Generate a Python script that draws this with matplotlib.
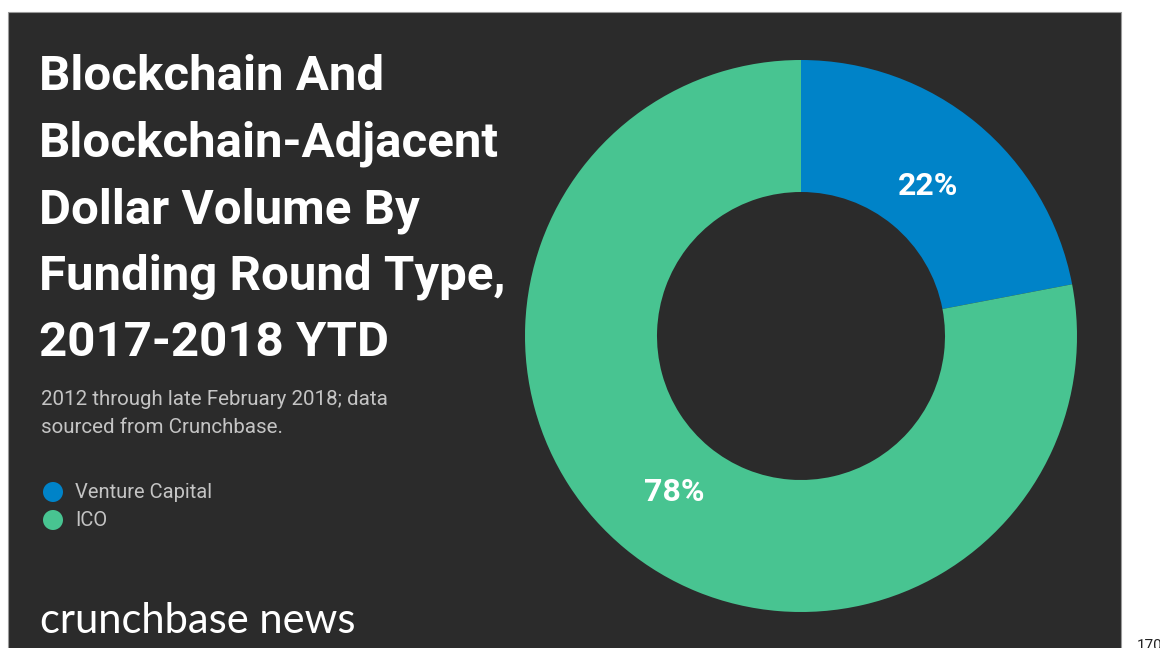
import matplotlib
matplotlib.use("Agg")
import matplotlib.pyplot as plt
from matplotlib.patches import Rectangle, Circle

# funding round share of blockchain dollar volume
categories = ["Venture Capital", "ICO"]
shares = [22, 78]
colors = ["#0083c8", "#48c491"]

title_lines = ["Blockchain And", "Blockchain-Adjacent", "Dollar Volume By",
               "Funding Round Type,", "2017-2018 YTD"]
note_lines = ["2012 through late February 2018; data", "sourced from Crunchbase."]

W, H = 1160, 648
BG = "#2b2b2b"

fig = plt.figure(figsize=(W / 100, H / 100), dpi=100, facecolor="white")

# full-figure layer in pixel coordinates for the panel and text
bg = fig.add_axes([0, 0, 1, 1])
bg.set_xlim(0, W)
bg.set_ylim(H, 0)
bg.axis("off")
bg.add_patch(Rectangle((8, 12), 1113, 640, facecolor=BG, edgecolor="#9a9a9a", lw=0.8))

y = 90
for line in title_lines:
    bg.text(39, y, line, color="white", fontsize=35.5, fontweight="bold",
            family="Roboto", va="baseline", ha="left")
    y += 66.5

y = 405
for line in note_lines:
    bg.text(41, y, line, color="#c4c4c4", fontsize=14.8, family="Roboto",
            va="baseline", ha="left")
    y += 28

# legend dots
y = 492
for name, col in zip(categories, colors):
    bg.add_patch(Circle((53, y), 10, facecolor=col, edgecolor="none"))
    bg.text(75, y + 1, name, color="#c4c4c4", fontsize=14.5, family="Roboto",
            va="center", ha="left")
    y += 28

bg.text(40, 633, "crunchbase news", color="white", fontsize=30, family="Lato",
        va="baseline", ha="left")
bg.text(1137, 639, "170", color="#222222", fontsize=11, family="Roboto",
        va="top", ha="left", clip_on=False)

# donut
cx, cy, r = 801, 336, 276
ax = fig.add_axes([(cx - r) / W, (H - cy - r) / H, 2 * r / W, 2 * r / H])
ax.axis("off")
wedges, texts, autotexts = ax.pie(
    shares, colors=colors, startangle=90, counterclock=False, radius=1,
    autopct="%d%%", pctdistance=0.72,
    wedgeprops=dict(width=1 - 144 / 276, edgecolor="none"),
    textprops=dict(color="white", fontsize=23, fontweight="bold", family="Roboto"))
ax.set_xlim(-1, 1)
ax.set_ylim(-1, 1)
for t in autotexts:
    t.set_y(t.get_position()[1] - 0.012)

fig.savefig("out.png", dpi=100, facecolor="white")
